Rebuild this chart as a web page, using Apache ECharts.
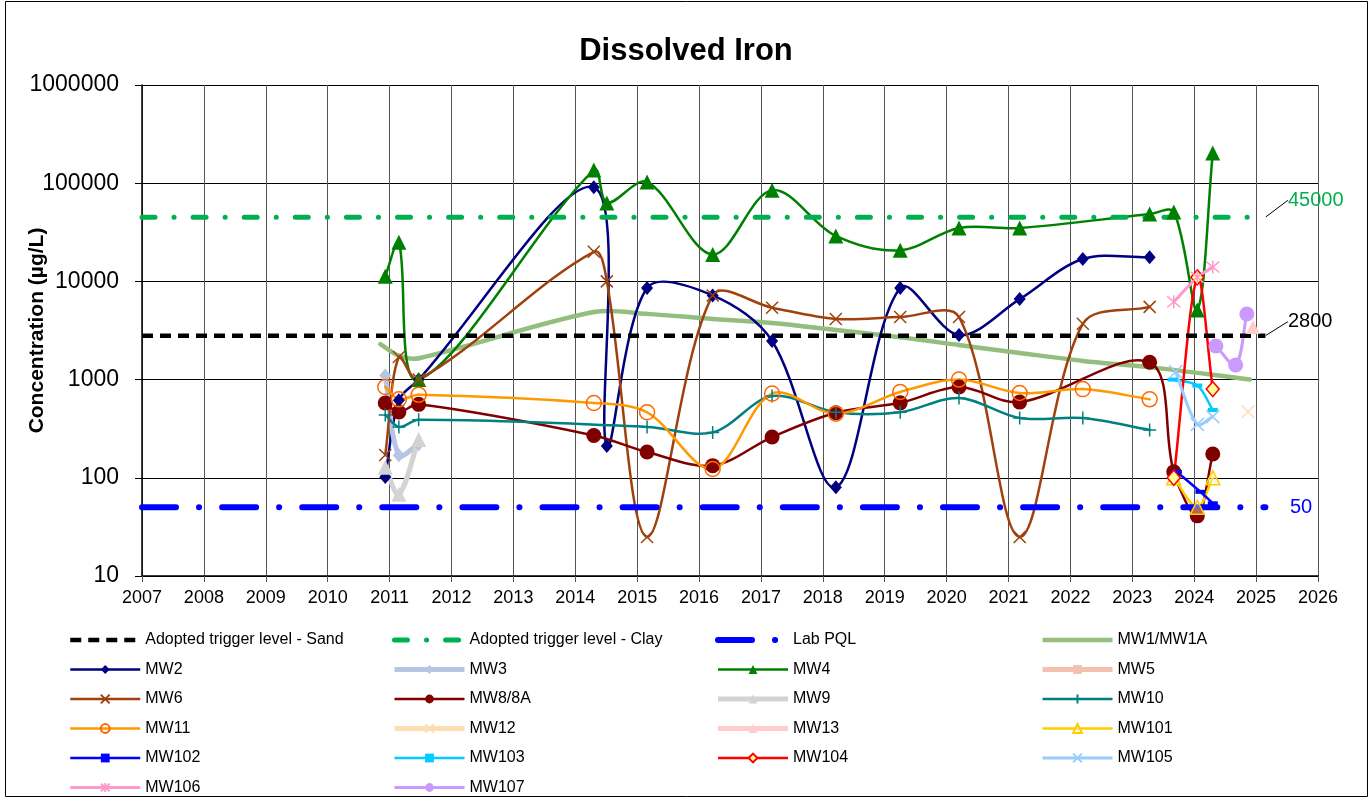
<!DOCTYPE html>
<html>
<head>
<meta charset="utf-8">
<script src="https://cdn.jsdelivr.net/npm/echarts@6/dist/echarts.min.js"></script>
<style>html,body{margin:0;padding:0;background:#fff}#chart{width:1372px;height:799px}</style>
</head>
<body>
<div id="chart"></div>
<script>
// ---------- DATA ----------
const xMin = 2007, xMax = 2026;
const yMin = 10, yMax = 1000000;
const sandLevel = 2800;
const clayLevel = 45000;
const labPQL = 50;
const refLineYears = [2007, 2025.15];

const MW1 = [[2010.85,2300],[2011.15,1750],[2011.47,1650],[2014.3,4880],[2015.16,4670],[2016.22,4140],[2017.18,3770],[2018.21,3200],[2019.25,2700],[2020.2,2250],[2021.18,1870],[2022.2,1550],[2023.28,1340],[2024.9,1000]];
const MW2 = [[2010.93,102],[2011.15,616],[2011.47,1000],[2014.3,91000],[2014.51,211],[2015.16,8570],[2016.22,7200],[2017.18,2470],[2018.21,80],[2019.25,8570],[2020.2,2840],[2021.18,6600],[2022.2,16900],[2023.28,17600]];
const MW3 = [[2010.93,1100],[2011.15,170],[2011.47,220]];
const MW4 = [[2010.93,11300],[2011.15,25000],[2011.47,1000],[2014.3,136000],[2014.51,63000],[2015.16,103000],[2016.22,18800],[2017.18,85000],[2018.21,29000],[2019.25,20700],[2020.2,35000],[2021.18,35000],[2023.28,48500],[2023.67,51000],[2024.05,5100],[2024.3,203000]];
const MW5 = [];
const MW6 = [[2010.93,171],[2011.15,1700],[2011.47,1000],[2014.3,20000],[2014.51,10000],[2015.16,25],[2016.22,7200],[2017.18,5400],[2018.21,4150],[2019.25,4340],[2020.2,4340],[2021.18,25],[2022.2,3700],[2023.28,5500]];
const MW8 = [[2010.93,578],[2011.15,468],[2011.47,560],[2014.3,270],[2015.16,183],[2016.22,133],[2017.18,260],[2018.21,460],[2019.25,580],[2020.2,840],[2021.18,590],[2023.28,1500],[2023.67,115],[2024.05,41],[2024.3,175]];
const MW9 = [[2010.93,128],[2011.15,68],[2011.47,245]];
const MW10 = [[2010.93,437],[2011.15,330],[2011.47,390],[2015.16,330],[2016.22,290],[2017.18,680],[2018.21,465],[2019.25,465],[2020.2,650],[2021.18,406],[2022.2,406],[2023.28,307]];
const MW11 = [[2010.93,840],[2011.15,630],[2011.47,700],[2014.3,578],[2015.16,465],[2016.22,123],[2017.18,720],[2018.21,450],[2019.25,748],[2020.2,1000],[2021.18,730],[2022.2,800],[2023.28,630]];
const MW12 = [[2024.87,470]];
const MW13 = [[2024.95,3430]];
const MW101 = [[2023.67,100],[2024.05,50],[2024.3,100]];
const MW102 = [[2023.72,115],[2024.1,72],[2024.3,55]];
const MW103 = [[2023.65,1000],[2024.05,870],[2024.3,490]];
const MW104 = [[2023.67,100],[2024.05,11000],[2024.3,800]];
const MW105 = [[2023.7,1200],[2024.05,350],[2024.3,420]];
const MW106 = [[2023.67,6200],[2024.05,11000],[2024.3,14000]];
const MW107 = [[2024.35,2200],[2024.67,1410],[2024.85,4660]];

// ---------- STYLE ----------
const FONT = 'Liberation Sans, Arial, sans-serif';
const X_SYM = 'path://M0,0L10,10M10,0L0,10';
const PLUS_SYM = 'path://M5,0L5,10M0,5L10,5';
const STAR_SYM = 'path://M0,0L10,10M10,0L0,10M5,-1L5,11';
const SMOOTH = 1 / 3;

function dist(a, b) { return Math.hypot(b[0] - a[0], b[1] - a[1]); }

// Spreadsheet-style smoothed curve, drawn segment by segment through the axis scales
function curveSeries(name, data, color, width) {
  return {
    name: name + ' curve', type: 'custom', data: data, encode: { x: 0, y: 1 },
    silent: true, clip: false,
    renderItem: function (params, api) {
      const i = params.dataIndex;
      const n = data.length;
      if (i >= n - 1) return null;
      const P = k => api.coord(data[Math.max(0, Math.min(n - 1, k))]);
      const p0 = P(i - 1), p1 = P(i), p2 = P(i + 1), p3 = P(i + 2);
      const d01 = dist(p0, p1), d12 = dist(p1, p2), d23 = dist(p2, p3);
      const f1 = (d01 + d12) > 0 ? d12 / (d01 + d12) : 0;
      const f2 = (d12 + d23) > 0 ? d12 / (d12 + d23) : 0;
      return {
        type: 'bezierCurve',
        shape: {
          x1: p1[0], y1: p1[1], x2: p2[0], y2: p2[1],
          cpx1: p1[0] + (p2[0] - p0[0]) * SMOOTH * f1,
          cpy1: p1[1] + (p2[1] - p0[1]) * SMOOTH * f1,
          cpx2: p2[0] - (p3[0] - p1[0]) * SMOOTH * f2,
          cpy2: p2[1] - (p3[1] - p1[1]) * SMOOTH * f2
        },
        style: { fill: 'none', stroke: color, lineWidth: width, lineCap: 'round' }
      };
    }
  };
}

function markers(name, data, color, width, symbol, size, opts) {
  opts = opts || {};
  return {
    name: name, type: 'line', data: data,
    symbol: symbol, symbolSize: size, showSymbol: symbol !== 'none',
    lineStyle: { color: color, width: width, opacity: 0 },
    itemStyle: { color: opts.fill !== undefined ? opts.fill : color,
                 borderColor: opts.border || color,
                 borderWidth: opts.borderWidth !== undefined ? opts.borderWidth : 0 },
    emphasis: { disabled: true }
  };
}

function refLine(name, level, color, width, dash, cap, labelDx, labelDy, leader) {
  return {
    name: name, type: 'line', smooth: false,
    data: [[refLineYears[0], level], {
      value: [refLineYears[1], level],
      label: { show: true, formatter: String(level), position: 'right', distance: 0,
               fontSize: 20, fontFamily: FONT, color: color === '#000000' ? '#000' : color }
    }],
    symbol: 'circle', symbolSize: 1, showSymbol: true,
    itemStyle: { color: 'rgba(0,0,0,0)' },
    lineStyle: { color: color, width: width, type: dash, cap: cap },
    labelLayout: { dx: labelDx, dy: labelDy },
    labelLine: { show: leader, lineStyle: { color: '#000', width: 1 } },
    emphasis: { disabled: true }
  };
}

const wells = [
  ['MW1/MW1A', MW1, '#93BE7E', 4.5, 'none', 0],
  ['MW2', MW2, '#000080', 2.5, 'diamond', [12, 14]],
  ['MW3', MW3, '#B8C4E4', 5, 'diamond', [12, 14]],
  ['MW4', MW4, '#008000', 2.5, 'triangle', 15],
  ['MW5', MW5, '#F4C0B0', 5, 'rect', 10],
  ['MW6', MW6, '#A0410D', 2.5, X_SYM, 12, { borderWidth: 1.5 }],
  ['MW8/8A', MW8, '#800000', 2.5, 'circle', 15],
  ['MW9', MW9, '#D3D3D3', 5, 'triangle', 15],
  ['MW10', MW10, '#008080', 2.5, PLUS_SYM, 13, { borderWidth: 1.5 }],
  ['MW11', MW11, '#FF9900', 2.5, 'circle', 15, { fill: 'rgba(255,255,255,0)', border: '#FF6600', borderWidth: 1.5 }],
  ['MW12', MW12, '#FFDDB3', 5, X_SYM, 13, { borderWidth: 1.5 }],
  ['MW13', MW13, '#FFCCCC', 5, 'triangle', 14],
  ['MW101', MW101, '#FFCC00', 2.5, 'triangle', 14, { fill: 'rgba(255,255,200,0.4)', border: '#FFCC00', borderWidth: 1.5 }],
  ['MW102', MW102, '#0000FF', 2.5, 'rect', [10, 4]],
  ['MW103', MW103, '#00CCFF', 2.5, 'rect', [10, 4]],
  ['MW104', MW104, '#FF0000', 2.5, 'diamond', [13, 15], { fill: '#FFFF99', border: '#FF0000', borderWidth: 1.5 }],
  ['MW105', MW105, '#99CCFF', 3, X_SYM, 13, { borderWidth: 1.5 }],
  ['MW106', MW106, '#FF99CC', 3, STAR_SYM, 13, { borderWidth: 1.5 }],
  ['MW107', MW107, '#CC99FF', 3, 'circle', 15]
];

const series = [
  refLine('Adopted trigger level - Sand', sandLevel, '#000000', 4.5, [11, 7], 'butt', 22, -14, true),
  refLine('Adopted trigger level - Clay', clayLevel, '#00B050', 5, [13, 19, 0.1, 19], 'round', 22, -17, true),
  refLine('Lab PQL', labPQL, '#0000FF', 6, [34, 23, 0.1, 23], 'round', 24, 0, false)
];
const widthOf = {
  'Adopted trigger level - Sand': 4.5, 'Adopted trigger level - Clay': 5, 'Lab PQL': 6
};
wells.forEach(w => {
  const [name, data, color, width, symbol, size, opts] = w;
  widthOf[name] = width;
  if (data.length > 1) series.push(curveSeries(name, data, color, width));
  series.push(markers(name, data, color, width, symbol, size, opts));
});

const legendCols = [
  ['Adopted trigger level - Sand', 'MW2', 'MW6', 'MW11', 'MW102', 'MW106'],
  ['Adopted trigger level - Clay', 'MW3', 'MW8/8A', 'MW12', 'MW103', 'MW107'],
  ['Lab PQL', 'MW4', 'MW9', 'MW13', 'MW104'],
  ['MW1/MW1A', 'MW5', 'MW10', 'MW101', 'MW105']
];
const legendLeft = [68, 392, 715, 1040];

const legends = legendCols.map((d, i) => ({
  data: d.map(n => {
    const item = { name: n, lineStyle: { width: widthOf[n], opacity: 1 } };
    if (n === 'MW1/MW1A') item.itemStyle = { opacity: 0 };
    return item;
  }),
  orient: 'vertical', left: legendLeft[i], top: 631, padding: 0,
  height: 170,
  itemWidth: 70, itemHeight: 11, itemGap: 11.5, selectedMode: false,
  textStyle: { fontSize: 16, lineHeight: 18, fontFamily: FONT, color: '#000' }
}));

const chart = echarts.init(document.getElementById('chart'), null, { renderer: 'canvas' });
chart.setOption({
  animation: false,
  backgroundColor: '#fff',
  title: {
    text: 'Dissolved Iron', left: 'center', top: 31,
    textStyle: { fontSize: 31, fontWeight: 'bold', fontFamily: FONT, color: '#000' }
  },
  graphic: [{
    type: 'rect', z: -10, silent: true,
    shape: { x: 5.5, y: 1.5, width: 1362, height: 795 },
    style: { fill: 'none', stroke: '#000', lineWidth: 1 }
  }],
  legend: legends,
  grid: { left: 142, right: 54, top: 85, bottom: 223, containLabel: false, outerBoundsMode: 'none' },
  xAxis: {
    type: 'value', min: xMin, max: xMax, interval: 1,
    axisLine: { show: true, onZero: false, lineStyle: { color: '#000', width: 1.5 } },
    axisTick: { show: true, inside: false, length: 6, lineStyle: { color: '#555' } },
    axisLabel: { fontSize: 18, fontFamily: FONT, color: '#000', margin: 13, formatter: v => String(v) },
    splitLine: { show: true, lineStyle: { color: '#555', width: 1 } }
  },
  yAxis: {
    type: 'log', logBase: 10, min: yMin, max: yMax,
    name: 'Concentration (µg/L)', nameLocation: 'middle', nameGap: 94, nameRotate: 90,
    nameMoveOverlap: false,
    nameTextStyle: { fontSize: 21, fontWeight: 'bold', fontFamily: FONT, color: '#000' },
    axisLine: { show: true, lineStyle: { color: '#000', width: 1.5 } },
    axisTick: { show: true, inside: false, length: 7, lineStyle: { color: '#000' } },
    minorTick: { show: false },
    axisLabel: { fontSize: 23, fontFamily: FONT, color: '#000', margin: 23, formatter: v => String(Math.round(v)) },
    splitLine: { show: true, lineStyle: { color: '#000', width: 1 } }
  },
  series: series
});
</script>
</body>
</html>
